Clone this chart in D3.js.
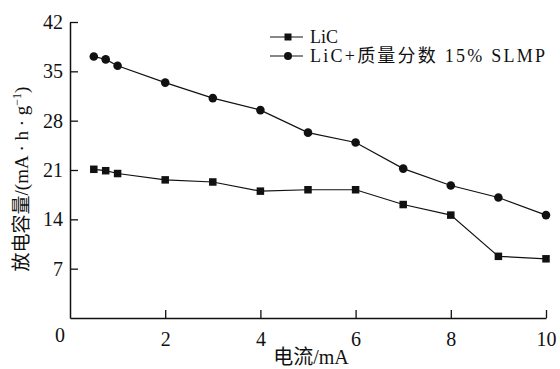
<!DOCTYPE html>
<html><head><meta charset="utf-8">
<script src="https://cdn.jsdelivr.net/npm/d3@7"></script>
<style>body{margin:0;background:#fff}svg{display:block}</style>
</head><body>
<script>
const xLic = [0.5, 0.75, 1, 2, 3, 4, 5, 6, 7, 8, 9, 10];
const yLic = [21.1, 20.9, 20.5, 19.6, 19.3, 18.0, 18.2, 18.2, 16.1, 14.6, 8.75, 8.4];
const xSlmp = [0.5, 0.75, 1, 2, 3, 4, 5, 6, 7, 8, 9, 10];
const ySlmp = [37.1, 36.7, 35.8, 33.4, 31.2, 29.5, 26.3, 24.9, 21.2, 18.8, 17.1, 14.6];
const xTicks = [2, 4, 6, 8, 10];
const yTicks = [7, 14, 21, 28, 35, 42];
const legendLabels = ["LiC", "LiC+质量分数 15% SLMP"];
const xTitle = "电流/mA";
const yTitleMain = "放电容量/(mA · h · g";
const yTitleSup = "−1";
const yTitleEnd = ")";

const W = 560, H = 369;
const svg = d3.select("body").append("svg").attr("width", W).attr("height", H);
const font = "'Liberation Serif','Times New Roman',serif";
const cjk = "'Liberation Serif','Noto Sans CJK SC',serif";
const ink = "#111";

const x = d3.scaleLinear().domain([0, 10]).range([70, 546]);
const y = d3.scaleLinear().domain([0, 42]).range([318, 22]);

// axes
const xAxis = d3.axisBottom(x).tickValues(xTicks).tickSizeInner(-8).tickSizeOuter(0).tickPadding(14);
const gx = svg.append("g").attr("transform", "translate(0,318)").call(xAxis);
const yAxis = d3.axisLeft(y).tickValues(yTicks).tickSizeInner(-8).tickSizeOuter(0).tickPadding(7);
const gy = svg.append("g").attr("transform", "translate(70,0)").call(yAxis);
[gx, gy].forEach(g => {
  g.select(".domain").attr("stroke", ink).attr("stroke-width", 1.5);
  g.selectAll(".tick line").attr("stroke", ink).attr("stroke-width", 1.3);
  g.selectAll(".tick text").attr("font-family", font).attr("font-size", 20).attr("fill", ink);
});
gx.selectAll(".tick text").attr("dy", "0.71em");
// origin label
svg.append("text").attr("x", 60).attr("y", 342).attr("text-anchor", "middle")
  .attr("font-family", font).attr("font-size", 20).attr("fill", ink).text("0");

// lines
const line = d3.line().x(d => x(d[0])).y(d => y(d[1]));
const licData = xLic.map((v, i) => [v, yLic[i]]);
const slmpData = xSlmp.map((v, i) => [v, ySlmp[i]]);
svg.append("path").datum(licData).attr("d", line).attr("fill", "none").attr("stroke", ink).attr("stroke-width", 1.2);
svg.append("path").datum(slmpData).attr("d", line).attr("fill", "none").attr("stroke", ink).attr("stroke-width", 1.2);
const sq = 7.5;
svg.selectAll("rect.m").data(licData).join("rect").attr("class", "m")
  .attr("x", d => x(d[0]) - sq / 2).attr("y", d => y(d[1]) - sq / 2)
  .attr("width", sq).attr("height", sq).attr("fill", ink);
svg.selectAll("circle.m").data(slmpData).join("circle").attr("class", "m")
  .attr("cx", d => x(d[0])).attr("cy", d => y(d[1])).attr("r", 4.3).attr("fill", ink);

// legend
const lg = svg.append("g");
const legendRows = [37, 56];
legendRows.forEach((ly, i) => {
  lg.append("line").attr("x1", 270).attr("x2", 303).attr("y1", ly).attr("y2", ly).attr("stroke", ink).attr("stroke-width", 1.2);
  if (i === 0) lg.append("rect").attr("x", 288 - 3.5).attr("y", ly - 3.5).attr("width", 7).attr("height", 7).attr("fill", ink);
  else lg.append("circle").attr("cx", 288).attr("cy", ly).attr("r", 4).attr("fill", ink);
  const t = lg.append("text").attr("x", 310).attr("y", ly + 6).attr("font-family", cjk).attr("font-size", 18).attr("fill", ink).text(legendLabels[i]);
  if (i === 1) t.attr("textLength", 235).attr("lengthAdjust", "spacing");
});

// titles
svg.append("text").attr("x", 311).attr("y", 364).attr("text-anchor", "middle")
  .attr("font-family", cjk).attr("font-size", 20).attr("fill", ink).text(xTitle);
const yt = svg.append("text").attr("transform", "translate(28,179) rotate(-90)").attr("text-anchor", "middle")
  .attr("font-family", cjk).attr("font-size", 19).attr("fill", ink);
yt.append("tspan").text(yTitleMain);
yt.append("tspan").attr("font-size", 12).attr("dy", -7).text(yTitleSup);
yt.append("tspan").attr("dy", 7).text(yTitleEnd);
</script>
</body></html>
